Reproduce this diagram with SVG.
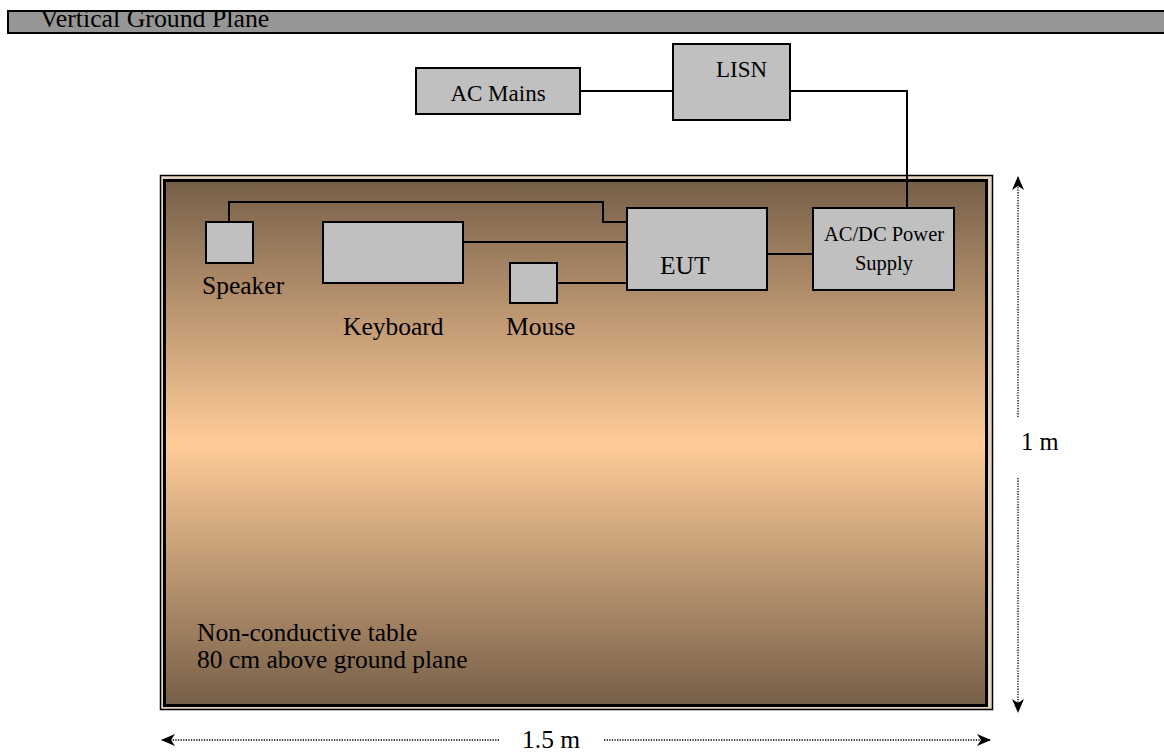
<svg xmlns="http://www.w3.org/2000/svg" width="1164" height="753" viewBox="0 0 1164 753">
<style>
text{font-family:"Liberation Serif","Times New Roman",serif;fill:#000}
.box{fill:#c0c0c0;stroke:#000;stroke-width:2}
.wire{fill:none;stroke:#000;stroke-width:2}
.dim{fill:none;stroke:#000;stroke-width:1.3;stroke-dasharray:1.3 1.3}
.t25{font-size:25.5px}
.t23{font-size:23px}
</style>
<defs>
<linearGradient id="tableGrad" x1="0" y1="0" x2="0" y2="1">
<stop offset="0" stop-color="#765f48"/>
<stop offset="0.5" stop-color="#ffcc99"/>
<stop offset="1" stop-color="#765f48"/>
</linearGradient>
<marker id="arr" viewBox="0 0 14 14" refX="13" refY="7" markerWidth="14" markerHeight="14" markerUnits="userSpaceOnUse" orient="auto-start-reverse">
<path d="M0,1 L14,7 L0,13 L4,7 Z" fill="#000"/>
</marker>
</defs>

<g id="ground-plane">
<rect x="8" y="11" width="1160" height="22" fill="#969696" stroke="#000" stroke-width="2"/>
<text x="40" y="27" style="font-size:25.8px">Vertical Ground Plane</text>
</g>

<g id="table">
<rect x="160.5" y="175.5" width="832" height="534" fill="#e2d4c0" stroke="#000" stroke-width="1.5"/>
<rect x="164.5" y="180.5" width="822" height="525" fill="url(#tableGrad)" stroke="#000" stroke-width="3"/>
<text class="t25" x="197" y="641">Non-conductive table</text>
<text class="t25" x="197" y="668">80 cm above ground plane</text>
</g>

<g id="connectors">
<polyline class="wire" points="580,91 673,91"/>
<polyline class="wire" points="790,91 907,91 907,208"/>
<polyline class="wire" points="229,222 229,202 603,202 603,222 627,222"/>
<polyline class="wire" points="463,242 627,242"/>
<polyline class="wire" points="557,283 627,283"/>
<polyline class="wire" points="767,254 813,254"/>
</g>

<g id="ac-mains">
<rect class="box" x="416" y="68" width="164" height="46"/>
<text class="t23" x="498" y="101" text-anchor="middle">AC Mains</text>
</g>

<g id="lisn">
<rect class="box" x="673" y="44" width="117" height="76"/>
<text class="t23" x="741.5" y="77" text-anchor="middle">LISN</text>
</g>

<g id="speaker">
<rect class="box" x="206" y="222" width="47" height="41"/>
<text class="t25" x="202" y="294">Speaker</text>
</g>

<g id="keyboard">
<rect class="box" x="323" y="222" width="140" height="61"/>
<text class="t25" x="343" y="335">Keyboard</text>
</g>

<g id="mouse">
<rect class="box" x="510" y="263" width="47" height="40"/>
<text class="t25" x="506" y="335">Mouse</text>
</g>

<g id="eut">
<rect class="box" x="627" y="208" width="140" height="82"/>
<text class="t25" x="660" y="274">EUT</text>
</g>

<g id="power-supply">
<rect class="box" x="813" y="208" width="141" height="82"/>
<text x="884" y="241" text-anchor="middle" style="font-size:20.5px">AC/DC Power</text>
<text x="884" y="270" text-anchor="middle" style="font-size:20.5px">Supply</text>
</g>

<g id="dimension-height">
<line class="dim" x1="1018" y1="417" x2="1018" y2="177" marker-end="url(#arr)"/>
<line class="dim" x1="1018" y1="478" x2="1018" y2="712" marker-end="url(#arr)"/>
<text x="1021" y="450" style="font-size:24.5px">1 m</text>
</g>

<g id="dimension-width">
<line class="dim" x1="499" y1="740" x2="162" y2="740" marker-end="url(#arr)"/>
<line class="dim" x1="604" y1="740" x2="990" y2="740" marker-end="url(#arr)"/>
<text class="t25" x="522" y="748">1.5 m</text>
</g>
</svg>
